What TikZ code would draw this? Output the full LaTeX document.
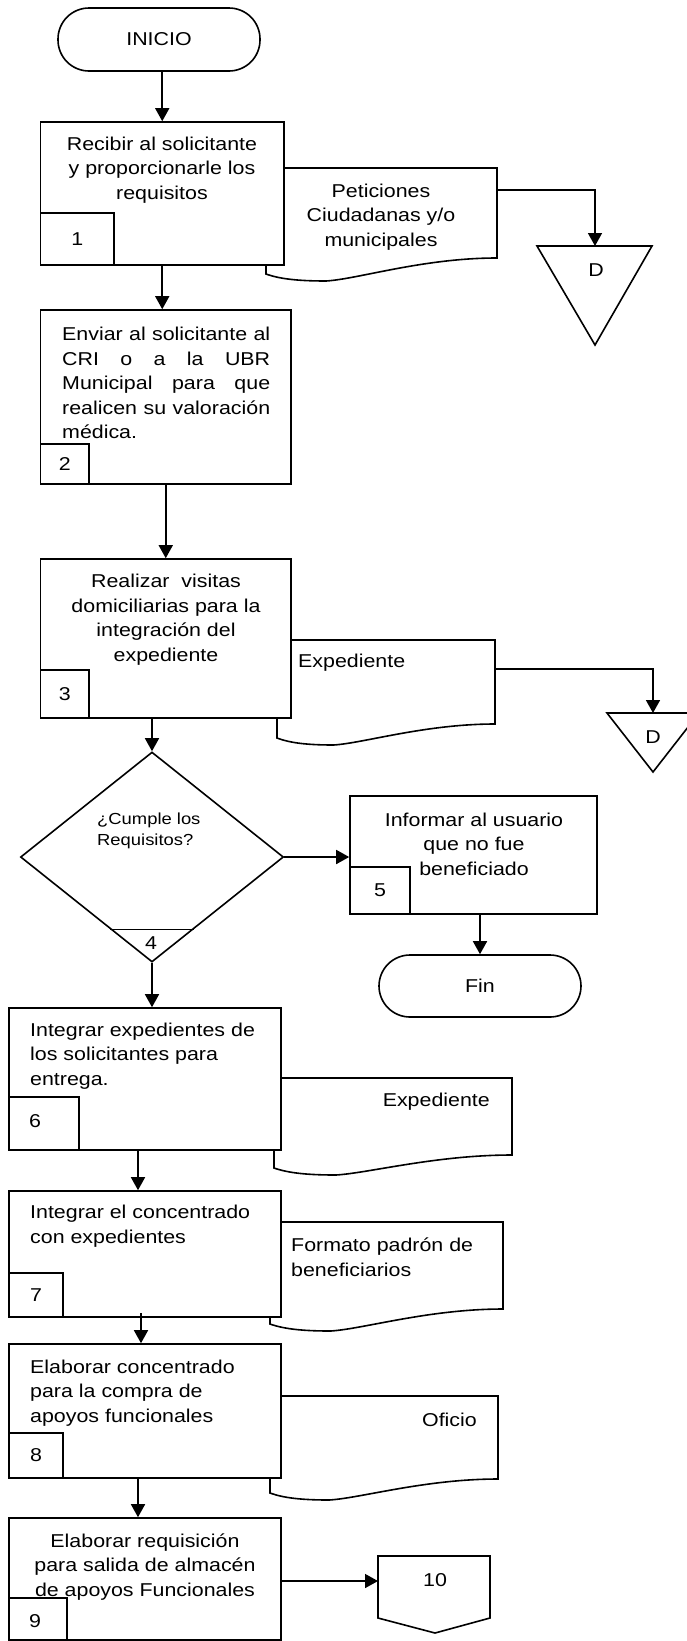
\documentclass[tikz,border=0pt]{standalone}
\usepackage{fontspec}
\setmainfont{Liberation Sans}[FakeStretch=1.15]
\usetikzlibrary{arrows.meta,shapes.geometric,calc}

% document symbol: left, top, right, right-bottom, left-bottom (wavy base)
\newcommand{\docshape}[5]{%
  \draw[shapeline] (#1,#2) -- (#3,#2) -- (#3,#4)
    .. controls ({#3-0.32*(#3-#1)},#4) and ({#1+0.40*(#3-#1)},{#5+5}) .. ({#1+0.26*(#3-#1)},{#5+7})
    .. controls ({#1+0.14*(#3-#1)},{#5+7}) and ({#1+0.06*(#3-#1)},{#5+5}) .. (#1,#5) -- cycle;}

\begin{document}
\begin{tikzpicture}[x=1pt,y=-1pt,
  every node/.style={font=\fontsize{18.6pt}{24.5pt}\selectfont, inner sep=0pt},
  box/.style={draw, fill=white, line width=1.6pt, rectangle},
  numbox/.style={draw, fill=white, line width=1.6pt, rectangle},
  term/.style={draw, fill=white, line width=1.6pt, rectangle, rounded corners=31pt},
  decision/.style={draw, fill=white, line width=1.6pt, diamond},
  shapeline/.style={draw, fill=white, line width=1.6pt, line join=miter},
  arr/.style={line width=1.6pt, -{Triangle[length=13pt,width=14pt]}},
  flow/.style={line width=1.6pt},
  ctext/.style={align=center},
  ltext/.style={anchor=west, align=left},
  smalltext/.style={font=\fontsize{16pt}{21pt}\selectfont}
]
\useasboundingbox (0,0) rectangle (687,1641);

% documents (drawn first, the process boxes overlap them)
\docshape{266}{168}{497}{258}{274}
\docshape{277}{640}{495}{724}{738}
\docshape{274}{1078}{512}{1155}{1168}
\docshape{270}{1222}{503}{1309}{1324}
\docshape{270}{1396}{498}{1479}{1493}

\node[ctext] (p1) at (381,217) {Peticiones\\Ciudadanas y/o\\municipales};
\node[ltext] (p2) at (298,663) {Expediente};
\node[anchor=east] (p3) at (490,1102) {Expediente};
\node[ltext] (p4) at (291,1257) {Formato padrón de\\beneficiarios};
\node[anchor=east] (p5) at (477,1420) {Oficio};

% terminals
\node[term, minimum width=202pt, minimum height=63pt] (inicio) at (159,39.5) {INICIO};
\node[term, minimum width=202pt, minimum height=62pt] (fin) at (480,986) {Fin};

% process boxes
\node[box, minimum width=243.5pt, minimum height=143pt] (b1) at (162.25,193.5) {};
\node[box, minimum width=250.5pt, minimum height=174pt] (b2) at (165.75,397) {};
\node[box, minimum width=250.5pt, minimum height=159pt] (b3) at (165.75,638.5) {};
\node[box, minimum width=247pt, minimum height=118pt] (b5) at (473.5,855) {};
\node[box, minimum width=272pt, minimum height=142pt] (b6) at (145,1079) {};
\node[box, minimum width=272pt, minimum height=126pt] (b7) at (145,1254) {};
\node[box, minimum width=272pt, minimum height=134pt] (b8) at (145,1411) {};
\node[box, minimum width=272pt, minimum height=122pt] (b9) at (145,1579) {};

% step numbers
\node[numbox, minimum width=73.5pt, minimum height=52pt] (n1) at (77.25,239) {1};
\node[numbox, minimum width=48.5pt, minimum height=40pt] (n2) at (64.75,464) {2};
\node[numbox, minimum width=48.5pt, minimum height=48pt] (n3) at (64.75,694) {3};
\node[numbox, minimum width=60pt, minimum height=47pt] (n5) at (380,890.5) {5};
\node[numbox, minimum width=70pt, minimum height=53pt] (n6) at (44,1123.5) {};
\node (l6) at (35,1121) {6};
\node[numbox, minimum width=54pt, minimum height=44pt] (n7) at (36,1295) {7};
\node[numbox, minimum width=54pt, minimum height=45pt] (n8) at (36,1455.5) {8};
\node[numbox, minimum width=58pt, minimum height=42pt] (n9) at (38,1619) {};
\node (l9) at (35,1621) {9};

% box texts
\node[ctext] (t1) at (162,170) {Recibir al solicitante\\y proporcionarle los\\requisitos};
\node[ltext] (t2) at (62,383) {\makebox[208pt][s]{Enviar al solicitante al}\\
  \makebox[208pt][s]{CRI o a la UBR}\\
  \makebox[208pt][s]{Municipal para que}\\
  \makebox[208pt][s]{realicen su valoración}\\
  médica.};
\node[ctext] (t3) at (166,619.5) {Realizar\ \ visitas\\domiciliarias para la\\integración del\\expediente};
\node[ctext] (t5) at (474,844) {Informar al usuario\\que no fue\\beneficiado};
\node[ltext] (t6) at (30,1056) {Integrar expedientes de\\los solicitantes para\\entrega.};
\node[ltext] (t7) at (30,1226) {Integrar el concentrado\\con expedientes};
\node[ltext] (t8) at (30,1393) {Elaborar concentrado\\para la compra de\\apoyos funcionales};
\node[ctext] (t9) at (145,1567) {Elaborar requisición\\para salida de almacén\\de apoyos Funcionales};

% decision
\node[decision, minimum width=263pt, minimum height=210pt] (dia) at (152,857) {};
\draw[flow] ($(dia.south)!0.314!(dia.west)$) -- ($(dia.south)!0.314!(dia.east)$);
\node[smalltext, ltext] (q4) at (97,831) {¿Cumple los\\Requisitos?};
\node (l4) at (151,943) {4};

% file triangles
\draw[shapeline] (537,246) -- (652,246) -- (595,345) -- cycle;
\coordinate (tri1) at (595,246);
\node (d1) at (596,270) {D};
\draw[shapeline] (607,713) -- (699,713) -- (653,772) -- cycle;
\coordinate (tri2) at (653,713);
\node (d2) at (653,737) {D};

% off-page connector
\draw[shapeline] (378,1556) -- (490,1556) -- (490,1618) -- (435,1633) -- (378,1618) -- cycle;
\node (c10) at (435,1580) {10};
\coordinate (c10in) at (378,1581);

% connectors
\coordinate (p1out) at (497,190);
\coordinate (p2out) at (495,669);
\draw[arr] (p1out) -| (tri1);
\draw[arr] (p2out) -| (tri2);
\draw[arr] (inicio.south -| b1.north) -- (b1.north);
\draw[arr] (b1.south) -- (b1.south |- b2.north);
\draw[arr] (b2.south) -- (b3.north);
\draw[arr] (b3.south -| dia.north) -- (dia.north);
\draw[arr] (dia.east) -- (dia.east -| b5.west);
\draw[arr] (b5.south -| fin.north) -- (fin.north);
\draw[arr] (dia.south) -- (dia.south |- b6.north);
\draw[arr] ([xshift=-7pt]b6.south) -- ([xshift=-7pt]b7.north);
\draw[arr] ([xshift=-4pt,yshift=5pt]b7.south) -- ([xshift=-4pt]b8.north);
\draw[arr] ([xshift=-7pt]b8.south) -- ([xshift=-7pt]b9.north);
\draw[arr] (b9.east |- c10in) -- (c10in);
\end{tikzpicture}
\end{document}
